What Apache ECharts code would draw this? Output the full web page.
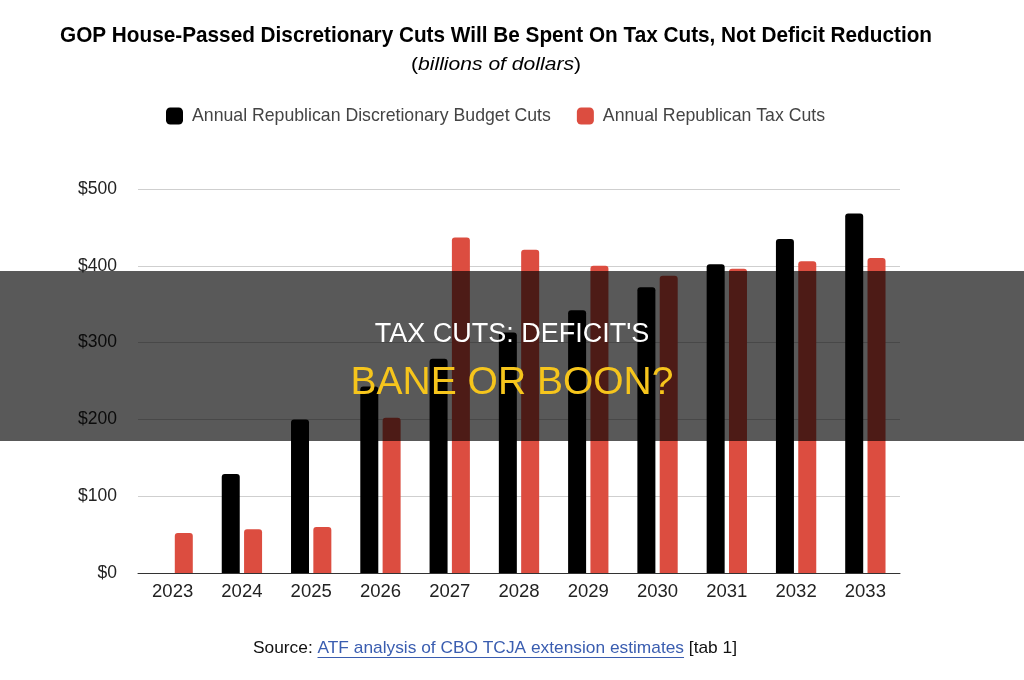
<!DOCTYPE html>
<html>
<head>
<meta charset="utf-8">
<script src="https://cdn.jsdelivr.net/npm/echarts@6/dist/echarts.min.js"></script>
<style>
  html, body { margin: 0; padding: 0; background: #fff; }
  #chart { width: 1024px; height: 680px; }
</style>
</head>
<body>
<div id="chart"></div>
<script>
// data (billions of dollars)
const years = ['2023', '2024', '2025', '2026', '2027', '2028', '2029', '2030', '2031', '2032', '2033'];
const budgetCuts = [0, 129, 200, 243, 279, 313, 342, 372, 402, 435, 468];
const taxCuts = [52, 57, 60, 202, 437, 421, 400, 387, 396, 406, 410];
const yTicks = [0, 100, 200, 300, 400, 500];

const FONT = '"Liberation Sans", Arial, sans-serif';

// canvas text width, used to squeeze the Calibri-like lines to the right width
const ctx = document.createElement('canvas').getContext('2d');
const measure = (text, font) => { ctx.font = font; return ctx.measureText(text).width; };

const titleText = 'GOP House-Passed Discretionary Cuts Will Be Spent On Tax Cuts, Not Deficit Reduction';
const titleScale = 872 / measure(titleText, 'bold 22px "Liberation Sans"');
const subScale = 170 / (measure('()', '19px "Liberation Sans"') + measure('billions of dollars', 'italic 19px "Liberation Sans"'));

const src1 = 'Source: ', src2 = 'ATF analysis of CBO TCJA extension estimates', src3 = ' [tab 1]';
const srcW = [src1, src2, src3].map(t => measure(t, '17px "Liberation Sans"'));
const srcScale = 484 / (srcW[0] + srcW[1] + srcW[2]);
const srcLeft = 495 - 242;

const chart = echarts.init(document.getElementById('chart'));

const option = {
    backgroundColor: '#fff',
    legend: {
        top: 102,
        left: 161,
        itemWidth: 17,
        itemHeight: 17,
        itemGap: 26,
        icon: 'roundRect',
        textStyle: { fontFamily: FONT, fontSize: 17.7, color: '#444', padding: [0, 0, 0, 4] },
        data: ['Annual Republican Discretionary Budget Cuts', 'Annual Republican Tax Cuts']
    },
    grid: { left: 138, right: 124, top: 189, bottom: 107 },
    xAxis: {
        type: 'category',
        data: years,
        axisTick: { show: false },
        axisLine: { lineStyle: { color: '#333', width: 1 } },
        axisLabel: { fontFamily: FONT, fontSize: 18.5, color: '#222', margin: 9 }
    },
    yAxis: {
        type: 'value',
        min: yTicks[0],
        max: yTicks[yTicks.length - 1],
        interval: 100,
        axisLabel: {
            fontFamily: FONT,
            fontSize: 17.5,
            color: '#222',
            margin: 21,
            formatter: v => '$' + v
        },
        splitLine: { lineStyle: { color: '#cfcfcf', width: 1 } }
    },
    series: [{
        name: 'Annual Republican Discretionary Budget Cuts',
        type: 'bar',
        data: budgetCuts,
        barWidth: 18,
        barGap: '24%',
        itemStyle: { color: '#000', borderRadius: [3, 3, 0, 0] }
    }, {
        name: 'Annual Republican Tax Cuts',
        type: 'bar',
        data: taxCuts,
        barWidth: 18,
        itemStyle: { color: '#dc4d40', borderRadius: [3, 3, 0, 0] }
    }],
    graphic: [{
        type: 'text',
        x: 496,
        y: 36,
        scaleX: titleScale,
        z: 10,
        style: {
            text: titleText,
            x: 0, y: 0,
            align: 'center',
            verticalAlign: 'middle',
            font: 'bold 22px "Liberation Sans"',
            fill: '#000'
        }
    }, {
        type: 'text',
        x: 496,
        y: 65,
        scaleX: subScale,
        z: 10,
        style: {
            text: '({i|billions of dollars})',
            x: 0, y: 0,
            align: 'center',
            verticalAlign: 'middle',
            font: '19px "Liberation Sans"',
            fill: '#000',
            rich: {
                i: { font: 'italic 19px "Liberation Sans"', fill: '#000' }
            }
        }
    }, {
        // source line
        type: 'text',
        x: srcLeft,
        y: 648,
        scaleX: srcScale,
        z: 10,
        style: {
            text: src1 + '{a|' + src2 + '}' + src3,
            x: 0, y: 0,
            align: 'left',
            verticalAlign: 'middle',
            font: '17px "Liberation Sans"',
            fill: '#111',
            rich: {
                a: { font: '17px "Liberation Sans"', fill: '#3a5db0' }
            }
        }
    }, {
        type: 'rect',
        x: srcLeft + srcW[0] * srcScale,
        y: 657,
        z: 10,
        shape: { width: srcW[1] * srcScale, height: 1 },
        style: { fill: '#3a5db0' }
    }, {
        // dark overlay band
        type: 'rect',
        x: 0,
        y: 271,
        z: 100,
        shape: { width: 1024, height: 170 },
        style: { fill: 'rgba(0,0,0,0.65)' }
    }, {
        type: 'text',
        left: 'center',
        top: 321,
        z: 101,
        style: {
            text: "TAX CUTS: DEFICIT'S",
            fontFamily: FONT,
            fontSize: 27,
            fill: '#fff'
        }
    }, {
        type: 'text',
        left: 'center',
        top: 364,
        z: 101,
        style: {
            text: 'BANE OR BOON?',
            fontFamily: FONT,
            fontSize: 39,
            fill: '#f6c51c'
        }
    }]
};

chart.setOption(option);
</script>
</body>
</html>
